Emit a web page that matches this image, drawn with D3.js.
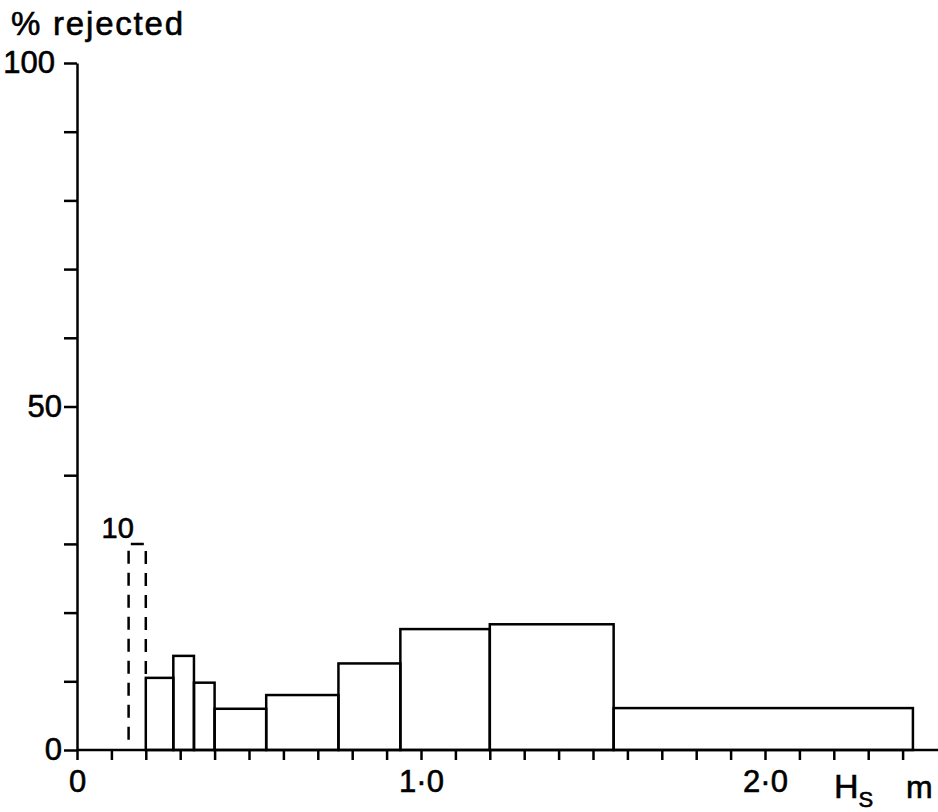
<!DOCTYPE html>
<html>
<head>
<meta charset="utf-8">
<script src="https://cdn.jsdelivr.net/npm/d3@7"></script>
<style>
  body { margin: 0; background: #fff; }
  text { font-family: "Liberation Sans", Arial, Helvetica, sans-serif; fill: #000; }
</style>
</head>
<body>
<svg id="chart" width="938" height="812"></svg>
<script>
// histogram bins (Hs in metres) and % rejected
var binStart = [0.20, 0.28, 0.34, 0.40, 0.55, 0.76, 0.94, 1.20, 1.56];
var binEnd   = [0.28, 0.34, 0.40, 0.55, 0.76, 0.94, 1.20, 1.56, 2.43];
var rejected = [10.5, 13.7, 9.8, 6.0, 8.0, 12.6, 17.6, 18.3, 6.1];

// dashed bin (small sample, n = 10)
var dashedBin = [0.15, 0.20];
var dashedValue = 30;
var dashedLabel = "10";

var xTicks = d3.range(0, 25).map(function (i) { return i / 10; });
var xTickLabels = {0: "0", 10: "1·0", 20: "2·0"};
var yTicks = d3.range(0, 11).map(function (i) { return i * 10; });
var yTickLabels = {0: "0", 50: "50", 100: "100"};

var svg = d3.select("#chart");

// scales
var x = d3.scaleLinear().domain([0, 2.5]).range([77, 937]);
var y = d3.scaleLinear().domain([0, 100]).range([750, 63]);

// x axis
var xAxis = svg.append("g")
    .attr("transform", "translate(0," + y(0) + ")")
    .call(d3.axisBottom(x)
        .tickValues(xTicks)
        .tickSizeInner(10)
        .tickSizeOuter(0)
        .tickPadding(10)
        .tickFormat(function (d) {
            var k = Math.round(d * 10);
            return xTickLabels[k] || "";
        }));
xAxis.select(".domain").attr("d", "M" + x(0) + ",0H938");

// y axis
var yAxis = svg.append("g")
    .attr("transform", "translate(" + x(0) + ",0)")
    .call(d3.axisLeft(y)
        .tickValues(yTicks)
        .tickSizeInner(13)
        .tickSizeOuter(0)
        .tickPadding(2)
        .tickFormat(function (d) { return yTickLabels[d] || ""; }));
// top label sits a bit further left
yAxis.selectAll(".tick text").filter(function (d) { return d === 100; }).attr("dx", -7);

svg.selectAll(".domain, .tick line")
    .attr("stroke", "#000")
    .attr("stroke-width", 2.5);
svg.selectAll(".tick text")
    .style("font-size", "31px")
    .style("font-family", "'Liberation Sans', Arial, Helvetica, sans-serif")
    .attr("stroke", "#000")
    .attr("stroke-width", 0.6);

// bars
svg.selectAll(".bar")
    .data(rejected)
    .enter().append("rect")
    .attr("class", "bar")
    .attr("x", function (d, i) { return x(binStart[i]); })
    .attr("width", function (d, i) { return x(binEnd[i]) - x(binStart[i]); })
    .attr("y", function (d) { return y(d); })
    .attr("height", function (d) { return y(0) - y(d); })
    .attr("fill", "none")
    .attr("stroke", "#000")
    .attr("stroke-width", 2.5);

// dashed bar
var dpath = d3.path();
dpath.moveTo(x(dashedBin[0]), y(1.5));
dpath.lineTo(x(dashedBin[0]), y(dashedValue));
dpath.lineTo(x(dashedBin[1]), y(dashedValue));
dpath.lineTo(x(dashedBin[1]), y(rejected[0]));
svg.append("path")
    .attr("d", dpath.toString())
    .attr("fill", "none")
    .attr("stroke", "#000")
    .attr("stroke-width", 2.5)
    .attr("stroke-dasharray", "13,9");

svg.append("text")
    .attr("x", x(dashedBin[0]) - 27)
    .attr("y", y(dashedValue) - 6)
    .attr("stroke", "#000")
    .attr("stroke-width", 0.6)
    .style("font-size", "29px")
    .text(dashedLabel);

// axis titles
svg.append("text")
    .attr("x", 11)
    .attr("y", 35)
    .attr("textLength", 172)
    .attr("lengthAdjust", "spacing")
    .attr("stroke", "#000")
    .attr("stroke-width", 0.6)
    .style("font-size", "33px")
    .text("% rejected");

var xt = svg.append("text")
    .attr("x", 834)
    .attr("y", 798)
    .attr("stroke", "#000")
    .attr("stroke-width", 0.6)
    .style("font-size", "34px");
xt.append("tspan").text("H");
xt.append("tspan").attr("dy", 9).style("font-size", "22px").text("S");
xt.append("tspan").attr("x", 906).attr("y", 798).style("font-size", "32px").text("m");
</script>
</body>
</html>
